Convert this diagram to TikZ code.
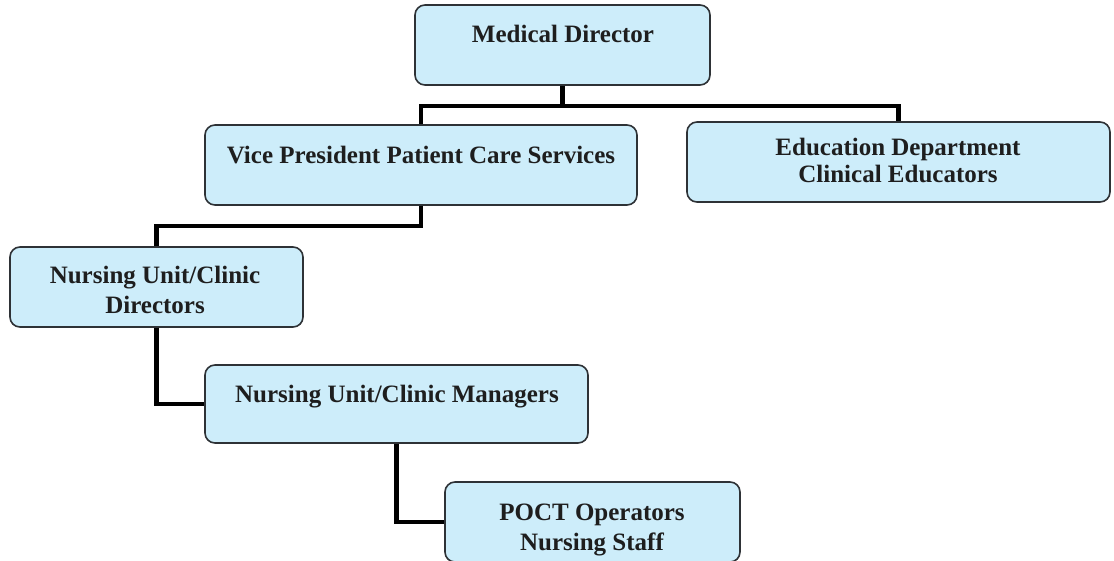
\documentclass[tikz,border=0pt]{standalone}
\usepackage{fontspec}
\setmainfont{Liberation Serif}
\begin{document}
\begin{tikzpicture}[x=1pt,y=1pt,
  box/.style={draw=boxline, line width=1.6pt, fill=boxfill, rounded corners=10pt,
    rectangle, inner sep=0pt},
  label/.style={anchor=base, align=center, text=ink, inner sep=0pt,
    font=\fontsize{25}{30}\selectfont\bfseries},
  conn/.style={draw=black, line width=4.5pt, line join=miter}]
\definecolor{boxfill}{HTML}{CDEDFA}
\definecolor{boxline}{HTML}{2E3236}
\definecolor{ink}{HTML}{1E1E1E}
\useasboundingbox (0,0) rectangle (1114,-560);
\clip (0,0) rectangle (1114,-560);

% boxes
\node[box, minimum width=295pt, minimum height=80pt] (md)   at (562.5,-45) {};
\node[box, minimum width=432pt, minimum height=80pt] (vp)   at (421,-165) {};
\node[box, minimum width=423pt, minimum height=80pt] (edu)  at (898.5,-162) {};
\node[box, minimum width=293pt, minimum height=80pt] (dir)  at (156.5,-287) {};
\node[box, minimum width=383pt, minimum height=78pt] (mgr)  at (396.5,-404) {};
\node[box, minimum width=295pt, minimum height=80pt] (poct) at (592.5,-522) {};

% connectors
\draw[conn] (md.south) -- ++(0,-20) -| (vp.north);
\draw[conn] (md.south) -- ++(0,-20) -| (edu.north);
\draw[conn] (vp.south) -- ++(0,-20) -| (dir.north);
\draw[conn] (dir.south) |- (mgr.west);
\draw[conn] (mgr.south) |- (poct.west);

% titles (multi-line titles are placed by their last baseline)
\node[label] (tmd)   at (563,-42)  {Medical Director};
\node[label] (tvp)   at (421,-163) {Vice President Patient Care Services};
\node[label, font=\fontsize{25}{27}\selectfont\bfseries] (tedu) at (898,-182) {Education Department\\Clinical Educators};
\node[label] (tdir)  at (155,-313) {Nursing Unit/Clinic\\Directors};
\node[label] (tmgr)  at (397,-402) {Nursing Unit/Clinic Managers};
\node[label] (tpoct) at (592,-550) {POCT Operators\\Nursing Staff};
\end{tikzpicture}
\end{document}
